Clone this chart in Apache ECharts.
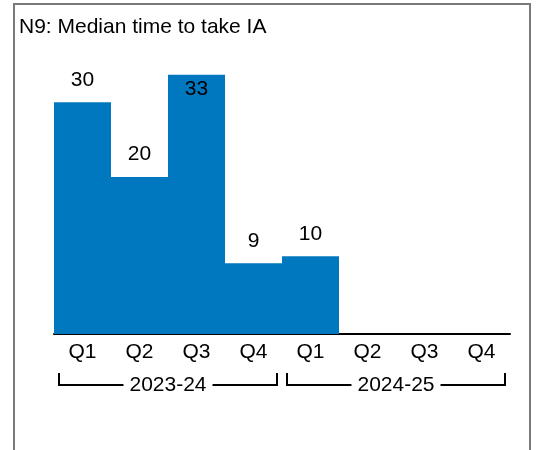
<!DOCTYPE html>
<html>
<head>
<meta charset="utf-8">
<script src="https://cdn.jsdelivr.net/npm/echarts@6/dist/echarts.min.js"></script>
<style>
  html, body { margin: 0; padding: 0; background: #fff; }
  #chart { width: 541px; height: 450px; }
</style>
</head>
<body>
<div id="chart"></div>
<script>
// ---- data ----
const titleText = 'N9: Median time to take IA';
const quarters = ['Q1', 'Q2', 'Q3', 'Q4', 'Q1', 'Q2', 'Q3', 'Q4'];
const years = ['2023-24', '2024-25'];
const quartersPerYear = 4;
const medianDays = [29.5, 20, 33, 9, 9.9, null, null, null];
const insideLabelIndex = 2; // label drawn inside the tallest bar

const FONT = 'Liberation Sans, Arial, sans-serif';
const FS = 21;
const chart = echarts.init(document.getElementById('chart'), null, { renderer: 'canvas' });

const option = {
  animation: false,
  backgroundColor: '#ffffff',
  title: {
    text: titleText,
    left: 19,
    top: 17,
    padding: 0,
    textStyle: { fontFamily: FONT, fontSize: FS, fontWeight: 'normal', color: '#000' }
  },
  grid: { left: 54, right: 31, top: 67, bottom: 116 },
  xAxis: {
    type: 'category',
    data: quarters,
    boundaryGap: true,
    axisLine: { lineStyle: { color: '#000', width: 2 } },
    axisTick: { alignWithLabel: true, length: 4, lineStyle: { color: '#000', width: 1.5 } },
    axisLabel: { fontFamily: FONT, fontSize: FS, color: '#000', margin: 8, interval: 0 }
  },
  yAxis: {
    type: 'value', min: 0, max: 34, show: false,
    splitLine: { show: false }
  },
  series: [{
    type: 'bar',
    data: medianDays.map((v, i) => ({
      value: v,
      label: i === insideLabelIndex
        ? { position: 'insideTop', distance: 4 }
        : { position: 'top', distance: 12 }
    })),
    barCategoryGap: 0,
    itemStyle: { color: '#0078C0' },
    label: {
      show: true,
      fontFamily: FONT, fontSize: FS, color: '#000',
      formatter: p => p.value == null ? '' : String(Math.round(p.value))
    }
  }]
};
chart.setOption(option);

// ---- year brackets under the category axis, placed with the axis scale ----
function px(idx) { return chart.convertToPixel({ xAxisIndex: 0 }, idx); }
const band = px(1) - px(0);
const lineY = 385, tickTop = 373;
const graphics = [];
years.forEach((yr, g) => {
  const x0 = px(g * quartersPerYear) - band / 2 + 5;
  const x1 = px(g * quartersPerYear + quartersPerYear - 1) + band / 2 - 5;
  graphics.push({
    type: 'polyline', silent: true,
    shape: { points: [[x0, tickTop], [x0, lineY], [x1, lineY], [x1, tickTop]] },
    style: { stroke: '#000', lineWidth: 2, fill: null }
  });
  graphics.push({
    type: 'text', silent: true, z: 10,
    x: (x0 + x1) / 2, y: lineY,
    style: {
      text: yr, fontFamily: FONT, fontSize: FS, fill: '#000',
      align: 'center', verticalAlign: 'middle',
      backgroundColor: '#fff', padding: [0, 6]
    }
  });
});
graphics.push({
  type: 'rect', silent: true,
  shape: { x: 14, y: 4, width: 516, height: 470 },
  style: { stroke: '#7a7a7a', lineWidth: 2, fill: null }
});
chart.setOption({ graphic: graphics });
</script>
</body>
</html>
